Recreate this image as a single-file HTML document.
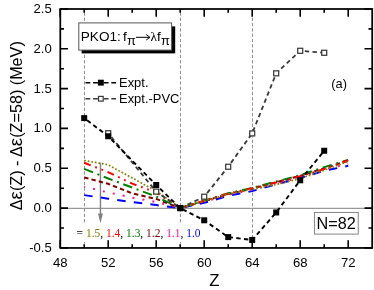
<!DOCTYPE html>
<html><head><meta charset="utf-8"><title>chart</title>
<style>
html,body{margin:0;padding:0;background:#fff;}
body{width:374px;height:290px;overflow:hidden;font-family:"Liberation Sans",sans-serif;}
svg{display:block;will-change:transform;}
text{font-family:"Liberation Sans",sans-serif;fill:#000;}
.ser{font-family:"Liberation Serif",serif;}
</style></head><body>
<svg width="374" height="290" viewBox="0 0 374 290">
<rect x="0" y="0" width="374" height="290" fill="#fff"/>
<line x1="84.5" y1="9.0" x2="84.5" y2="247.95" stroke="#7c7c7c" stroke-width="0.85" stroke-dasharray="3.3 2" stroke-dashoffset="1.95"/>
<line x1="180.5" y1="9.0" x2="180.5" y2="247.95" stroke="#7c7c7c" stroke-width="0.85" stroke-dasharray="3.3 2" stroke-dashoffset="1.95"/>
<line x1="252.5" y1="9.0" x2="252.5" y2="247.95" stroke="#7c7c7c" stroke-width="0.85" stroke-dasharray="3.3 2" stroke-dashoffset="1.95"/>
<line x1="60.3" y1="208.29999999999998" x2="372.2" y2="208.29999999999998" stroke="#707070" stroke-width="0.9"/>
<line x1="100.45" y1="162.6" x2="100.45" y2="215" stroke="#808080" stroke-width="1.4"/>
<polygon points="98.05,213.6 102.85,213.6 100.45,223.4" fill="#808080"/>
<rect x="75" y="222.7" width="126" height="19.3" fill="#fff"/>
<polyline points="84.20,195.12 108.20,198.70 132.20,202.13 156.20,205.07 180.20,208.10 204.20,202.84 228.20,195.83 252.20,191.13 276.20,184.36 300.20,177.99 324.20,170.82 348.20,165.81" fill="none" stroke="#0000ff" stroke-width="2" stroke-dasharray="8.5 8.2" stroke-dashoffset="0"/>
<polyline points="84.20,186.75 108.20,192.41 132.20,197.59 156.20,202.05 180.20,208.10 204.20,201.73 228.20,194.88 252.20,189.62 276.20,183.57 300.20,177.43 324.20,169.47 348.20,163.89" fill="none" stroke="#ff1493" stroke-width="2" stroke-dasharray="2 8.1" stroke-dashoffset="1"/>
<polyline points="84.20,177.43 108.20,183.81 132.20,193.36 156.20,198.94 180.20,208.10 204.20,201.09 228.20,194.08 252.20,188.51 276.20,182.21 300.20,175.84 324.20,168.27 348.20,160.71" fill="none" stroke="#800000" stroke-width="2" stroke-dasharray="4.4 3.1" stroke-dashoffset="0"/>
<polyline points="84.20,168.91 108.20,178.47 132.20,187.55 156.20,196.55 180.20,208.10 204.20,200.53 228.20,193.29 252.20,187.87 276.20,181.58 300.20,175.20 324.20,167.08 348.20,159.99" fill="none" stroke="#008000" stroke-width="2" stroke-dasharray="9.5 4.7 2 4.8" stroke-dashoffset="0"/>
<polyline points="84.20,162.78 108.20,172.10 132.20,183.65 156.20,192.57 180.20,208.10 204.20,200.69 228.20,193.60 252.20,188.27 276.20,182.45 300.20,176.24 324.20,169.07 348.20,160.31" fill="none" stroke="#ff0000" stroke-width="2" stroke-dasharray="7 4.8 1.8 4.8 1.8 4.8" stroke-dashoffset="0"/>
<polyline points="84.20,160.47 108.20,164.77 132.20,177.99 156.20,190.98 180.20,208.10 204.20,200.93 228.20,194.08 252.20,189.14 276.20,184.60 300.20,178.55 324.20,170.27 348.20,161.50" fill="none" stroke="#808000" stroke-width="1.7" stroke-dasharray="1.7 1.9" stroke-dashoffset="0"/>
<polyline points="108.20,133.23 156.20,191.61 180.20,208.10 204.20,196.71 228.20,166.76 252.20,133.39 276.20,73.33 300.20,50.79 324.20,52.78" fill="none" stroke="#3a3a3a" stroke-width="1.8" stroke-dasharray="4.4 3.3" stroke-dashoffset="2.7"/>
<polyline points="84.20,118.10 108.20,136.26 156.20,185.00 180.20,208.10 204.20,220.29 228.20,237.09 252.20,239.96 276.20,212.48 300.20,180.30 324.20,150.75" fill="none" stroke="#000" stroke-width="1.9" stroke-dasharray="4.4 3.3" stroke-dashoffset="4.0"/>
<rect x="105.70" y="130.73" width="5.0" height="5.0" fill="#fff" stroke="#3a3a3a" stroke-width="1.25"/>
<rect x="153.70" y="189.11" width="5.0" height="5.0" fill="#fff" stroke="#3a3a3a" stroke-width="1.25"/>
<rect x="177.70" y="205.60" width="5.0" height="5.0" fill="#fff" stroke="#3a3a3a" stroke-width="1.25"/>
<rect x="201.70" y="194.21" width="5.0" height="5.0" fill="#fff" stroke="#3a3a3a" stroke-width="1.25"/>
<rect x="225.70" y="164.26" width="5.0" height="5.0" fill="#fff" stroke="#3a3a3a" stroke-width="1.25"/>
<rect x="249.70" y="130.89" width="5.0" height="5.0" fill="#fff" stroke="#3a3a3a" stroke-width="1.25"/>
<rect x="273.70" y="70.83" width="5.0" height="5.0" fill="#fff" stroke="#3a3a3a" stroke-width="1.25"/>
<rect x="297.70" y="48.29" width="5.0" height="5.0" fill="#fff" stroke="#3a3a3a" stroke-width="1.25"/>
<rect x="321.70" y="50.28" width="5.0" height="5.0" fill="#fff" stroke="#3a3a3a" stroke-width="1.25"/>
<rect x="81.20" y="115.10" width="6" height="6" fill="#000"/>
<rect x="105.20" y="133.26" width="6" height="6" fill="#000"/>
<rect x="153.20" y="182.00" width="6" height="6" fill="#000"/>
<rect x="177.20" y="205.10" width="6" height="6" fill="#000"/>
<rect x="201.20" y="217.29" width="6" height="6" fill="#000"/>
<rect x="225.20" y="234.09" width="6" height="6" fill="#000"/>
<rect x="249.20" y="236.96" width="6" height="6" fill="#000"/>
<rect x="273.20" y="209.48" width="6" height="6" fill="#000"/>
<rect x="297.20" y="177.30" width="6" height="6" fill="#000"/>
<rect x="321.20" y="147.75" width="6" height="6" fill="#000"/>
<rect x="60.3" y="9.0" width="311.90" height="238.95" fill="none" stroke="#000" stroke-width="1.75"/>
<path d="M60.2 247.95v-7.7M60.2 9.0v7.7 M84.2 247.95v-3.7M84.2 9.0v3.7 M108.2 247.95v-7.7M108.2 9.0v7.7 M132.2 247.95v-3.7M132.2 9.0v3.7 M156.2 247.95v-7.7M156.2 9.0v7.7 M180.2 247.95v-3.7M180.2 9.0v3.7 M204.2 247.95v-7.7M204.2 9.0v7.7 M228.2 247.95v-3.7M228.2 9.0v3.7 M252.2 247.95v-7.7M252.2 9.0v7.7 M276.2 247.95v-3.7M276.2 9.0v3.7 M300.2 247.95v-7.7M300.2 9.0v7.7 M324.2 247.95v-3.7M324.2 9.0v3.7 M348.2 247.95v-7.7M348.2 9.0v7.7 M60.3 247.9h7.7M372.2 247.9h-7.7 M60.3 228.0h3.7M372.2 228.0h-3.7 M60.3 208.1h7.7M372.2 208.1h-7.7 M60.3 188.2h3.7M372.2 188.2h-3.7 M60.3 168.3h7.7M372.2 168.3h-7.7 M60.3 148.4h3.7M372.2 148.4h-3.7 M60.3 128.4h7.7M372.2 128.4h-7.7 M60.3 108.5h3.7M372.2 108.5h-3.7 M60.3 88.6h7.7M372.2 88.6h-7.7 M60.3 68.7h3.7M372.2 68.7h-3.7 M60.3 48.8h7.7M372.2 48.8h-7.7 M60.3 28.9h3.7M372.2 28.9h-3.7 M60.3 9.0h7.7M372.2 9.0h-7.7" stroke="#000" stroke-width="1.6" fill="none"/>
<text transform="translate(60.3,267.1) scale(1.035,1)" font-size="12.7" text-anchor="middle">48</text>
<text transform="translate(108.3,267.1) scale(1.035,1)" font-size="12.7" text-anchor="middle">52</text>
<text transform="translate(156.3,267.1) scale(1.035,1)" font-size="12.7" text-anchor="middle">56</text>
<text transform="translate(204.3,267.1) scale(1.035,1)" font-size="12.7" text-anchor="middle">60</text>
<text transform="translate(252.3,267.1) scale(1.035,1)" font-size="12.7" text-anchor="middle">64</text>
<text transform="translate(300.3,267.1) scale(1.035,1)" font-size="12.7" text-anchor="middle">68</text>
<text transform="translate(348.3,267.1) scale(1.035,1)" font-size="12.7" text-anchor="middle">72</text>
<text transform="translate(51.8,251.9) scale(1.035,1)" font-size="12.7" text-anchor="end">-0.5</text>
<text transform="translate(51.8,212.1) scale(1.035,1)" font-size="12.7" text-anchor="end">0.0</text>
<text transform="translate(51.8,172.3) scale(1.035,1)" font-size="12.7" text-anchor="end">0.5</text>
<text transform="translate(51.8,132.4) scale(1.035,1)" font-size="12.7" text-anchor="end">1.0</text>
<text transform="translate(51.8,92.6) scale(1.035,1)" font-size="12.7" text-anchor="end">1.5</text>
<text transform="translate(51.8,52.8) scale(1.035,1)" font-size="12.7" text-anchor="end">2.0</text>
<text transform="translate(51.8,13.0) scale(1.035,1)" font-size="12.7" text-anchor="end">2.5</text>
<text transform="translate(214.3,285.7) scale(1.06,1)" font-size="15.8" text-anchor="middle">Z</text>
<text transform="translate(21.5,210.2) rotate(-90) scale(1.011,1)" font-size="16">Δ<tspan font-size="18.5">ε</tspan>(Z) - Δ<tspan font-size="18.5">ε</tspan>(Z=58) (MeV)</text>
<rect x="81.6" y="26.4" width="93.6" height="27" fill="#000"/>
<rect x="78.8" y="22.9" width="92.8" height="27.2" fill="#fff" stroke="#555" stroke-width="1"/>
<text transform="translate(80.8,41.1) scale(1.02,1)" font-size="13.3" text-anchor="start">PKO1:</text>
<text transform="translate(123.0,41.1) scale(1.02,1)" font-size="13.3" text-anchor="start">f</text>
<text transform="translate(127.0,45.3) scale(1.0,1)" font-size="12.8" text-anchor="start">π</text>
<path d="M136 37.3H149.8M146.2 34.5L149.9 37.3L146.2 40.1" fill="none" stroke="#000" stroke-width="1"/>
<text transform="translate(150.6,41) scale(1.0,1)" font-size="13.2" text-anchor="start" class="ser">λ</text>
<text transform="translate(156.9,41.1) scale(1.02,1)" font-size="13.3" text-anchor="start">f</text>
<text transform="translate(160.9,45.3) scale(1.0,1)" font-size="12.8" text-anchor="start">π</text>
<path d="M85.5 82.7H98M103.7 82.7H116.6" stroke="#000" stroke-width="1.5" stroke-dasharray="4.8 2.8" fill="none"/>
<rect x="97.9" y="79.7" width="5.9" height="5.9" fill="#000"/>
<path d="M85.5 98.7H98M103.7 98.7H116.6" stroke="#3a3a3a" stroke-width="1.4" stroke-dasharray="4.8 2.8" fill="none"/>
<rect x="98.5" y="96.4" width="4.7" height="4.7" fill="#fff" stroke="#3a3a3a" stroke-width="1.2"/>
<text transform="translate(119.0,86.6) scale(1.08,1)" font-size="12" text-anchor="start">Expt.</text>
<text transform="translate(119.0,102.8) scale(1.08,1)" font-size="12" text-anchor="start">Expt.-PVC</text>
<text transform="translate(331.3,87.6) scale(1.03,1)" font-size="12.4" text-anchor="start">(a)</text>
<rect x="314.4" y="212.4" width="43.8" height="21.7" fill="#fff" stroke="#777" stroke-width="0.9"/>
<text x="336.1" y="228.8" font-size="16.2" text-anchor="middle">N=82</text>
<text class="ser" transform="translate(76.6,236.6) scale(0.972,1)" font-size="11.8" xml:space="preserve">=&#160;<tspan fill="#808000">1.5</tspan>,&#160;<tspan fill="#ff0000">1.4</tspan>,&#160;<tspan fill="#008000">1.3</tspan>,&#160;<tspan fill="#800000">1.2</tspan>,&#160;<tspan fill="#ff1493">1.1</tspan>,&#160;<tspan fill="#0000ff">1.0</tspan></text>
</svg></body></html>
